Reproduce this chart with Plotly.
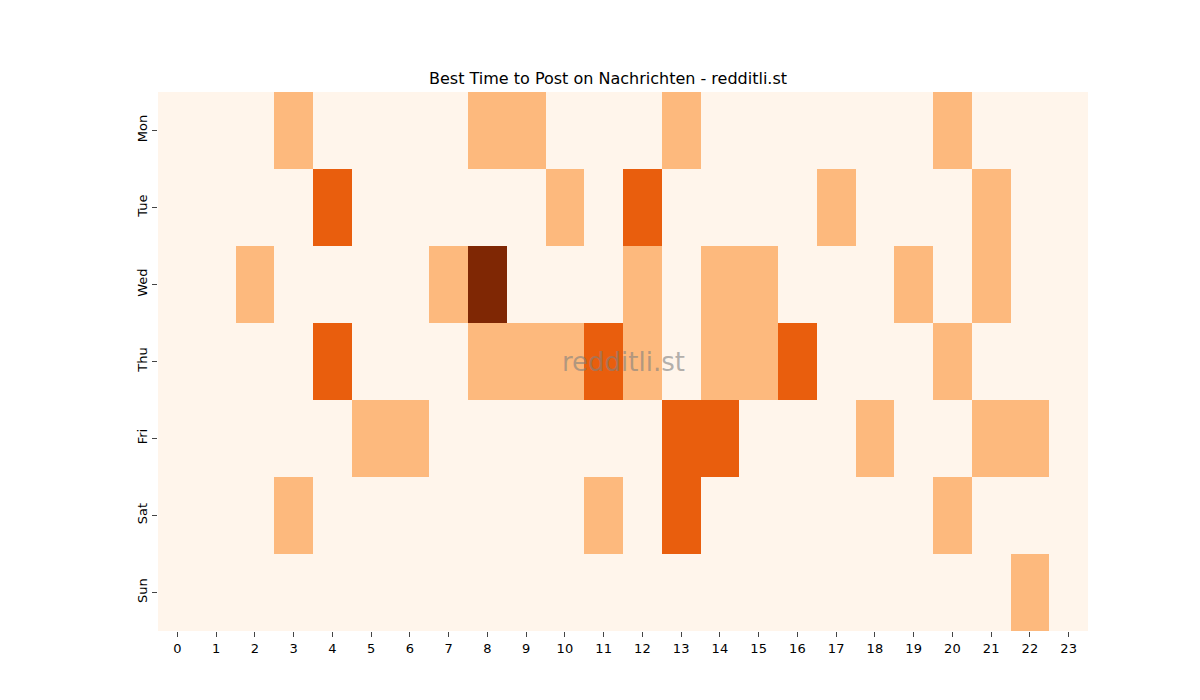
import plotly.graph_objects as go

hours = [str(h) for h in range(24)]
days = ["Mon", "Tue", "Wed", "Thu", "Fri", "Sat", "Sun"]

mon = [0,0,0,1,0,0,0,0,1,1,0,0,0,1,0,0,0,0,0,0,1,0,0,0]
tue = [0,0,0,0,2,0,0,0,0,0,1,0,2,0,0,0,0,1,0,0,0,1,0,0]
wed = [0,0,1,0,0,0,0,1,3,0,0,0,1,0,1,1,0,0,0,1,0,1,0,0]
thu = [0,0,0,0,2,0,0,0,1,1,1,2,1,0,1,1,2,0,0,0,1,0,0,0]
fri = [0,0,0,0,0,1,1,0,0,0,0,0,0,2,2,0,0,0,1,0,0,1,1,0]
sat = [0,0,0,1,0,0,0,0,0,0,0,1,0,2,0,0,0,0,0,0,1,0,0,0]
sun = [0,0,0,0,0,0,0,0,0,0,0,0,0,0,0,0,0,0,0,0,0,0,1,0]
z = [mon, tue, wed, thu, fri, sat, sun]

cs = [[0, "#fff5eb"], [0.125, "#fff5eb"], [0.125, "#fdb97d"], [0.5, "#fdb97d"],
      [0.5, "#e95e0d"], [0.875, "#e95e0d"], [0.875, "#7f2704"], [1, "#7f2704"]]

fig = go.Figure(go.Heatmap(z=z, x=hours, y=days, colorscale=cs, zmin=0, zmax=3,
                           showscale=False, xgap=0, ygap=0))
fig.update_layout(
    width=1200, height=700, plot_bgcolor="white", paper_bgcolor="white",
    margin=dict(l=150, r=120, t=84, b=77),
    title=dict(text="Best Time to Post on Nachrichten - redditli.st", x=0.5, xanchor="center",
               y=1 - 70/700, yanchor="middle", font=dict(family="DejaVu Sans", size=16, color="black")),
    font=dict(family="DejaVu Sans", size=13, color="black"),
    xaxis=dict(ticks="outside", ticklen=5, showgrid=False, zeroline=False, showline=False),
    yaxis=dict(autorange="reversed", ticks="outside", ticklen=5, tickangle=-90,
               showgrid=False, zeroline=False, showline=False),
    annotations=[dict(text="redditli.st", x=0.5, y=0.5, xref="paper", yref="paper",
                      showarrow=False, font=dict(family="DejaVu Sans", size=26, color="rgba(128,128,128,0.6)"))],
)
fig.write_html("out.html")
